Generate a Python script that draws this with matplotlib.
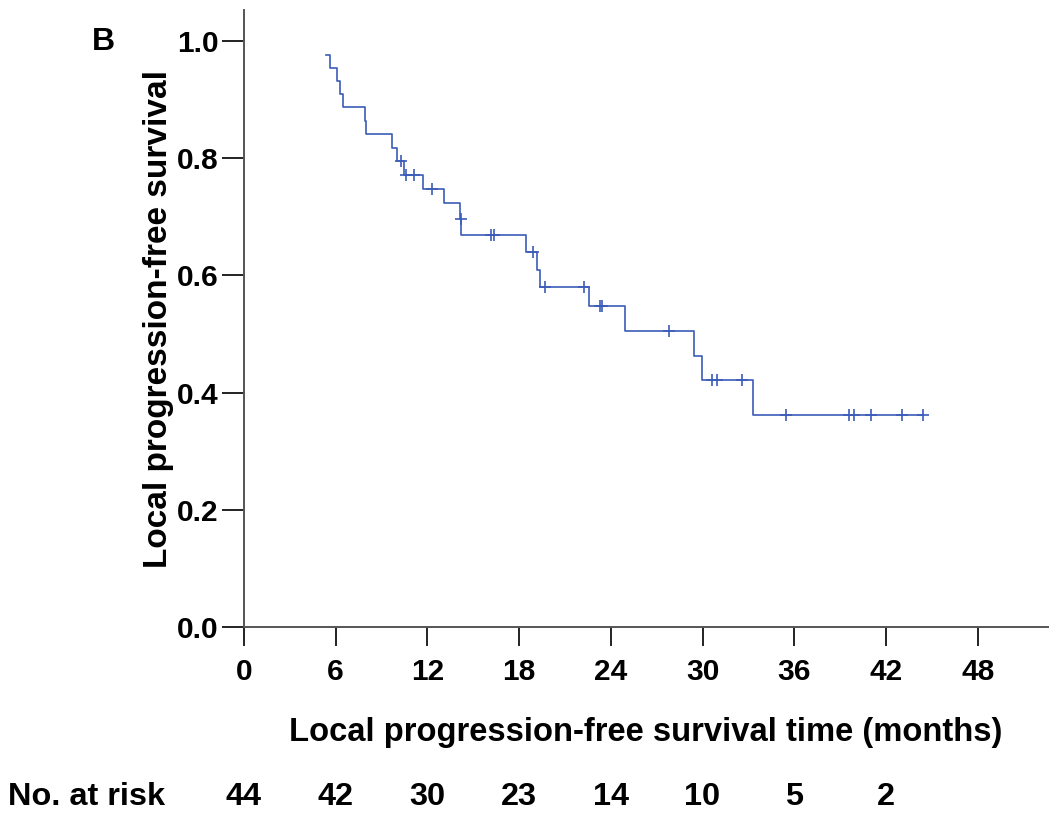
import numpy as np
import matplotlib
matplotlib.use("Agg")
import matplotlib.pyplot as plt
import matplotlib.transforms as mtransforms

plt.rcParams['font.family'] = ['Liberation Sans', 'DejaVu Sans']
plt.rcParams['font.weight'] = 'bold'

# Kaplan-Meier step curve (time in months, survival after the step)
step_times = [5.37, 5.63, 6.06, 6.28, 6.46, 7.92, 8.0, 9.66, 9.99, 10.49, 11.74,
              13.1, 14.14, 14.2, 18.43, 19.2, 19.37, 22.58, 24.93, 29.45, 29.95, 33.33]
step_surv = [0.977, 0.954, 0.932, 0.909, 0.887, 0.864, 0.841, 0.818, 0.796, 0.771, 0.747,
             0.723, 0.696, 0.669, 0.640, 0.609, 0.580, 0.547, 0.506, 0.463, 0.421, 0.361]
censor_times = [10.3, 10.6, 11.13, 12.33, 14.17, 16.14, 16.38, 18.93, 19.7, 22.25, 23.3,
                23.4, 27.81, 30.65, 30.92, 32.57, 35.45, 39.55, 39.88, 41.04, 43.08, 44.42]

risk_times = [0, 6, 12, 18, 24, 30, 36, 42]
risk_counts = [44, 42, 30, 23, 14, 10, 5, 2]

x_ticks = [0, 6, 12, 18, 24, 30, 36, 42, 48]
y_ticks = [0.0, 0.2, 0.4, 0.6, 0.8, 1.0]

line_color = '#3b5cb8'
axis_color = '#555555'

fig = plt.figure(figsize=(10.5, 8.23), dpi=100)
# axes box in pixels: left 244, right 1048, top 10, bottom 627
ax = fig.add_axes([244 / 1050, 1 - 627 / 823, (1048 - 244) / 1050, (627 - 10) / 823])

xs = step_times + [censor_times[-1]]
ys = step_surv + [step_surv[-1]]
ax.step(xs, ys, where='post', color=line_color, lw=1.2)

idx = np.searchsorted(step_times, censor_times, side='right') - 1
cy = np.array(step_surv)[idx]
ax.plot(censor_times, cy, linestyle='none', marker='+', ms=8, mew=1.2, color=line_color)

ax.set_xlim(0, 52.6)
ax.set_ylim(0, 1.053)
ax.set_xticks(x_ticks)
ax.set_yticks(y_ticks)
ax.set_yticklabels(['%.1f' % v for v in y_ticks])

for s in ['top', 'right']:
    ax.spines[s].set_visible(False)
for s in ['left', 'bottom']:
    ax.spines[s].set_color(axis_color)
    ax.spines[s].set_linewidth(1.4)

ax.tick_params(axis='x', length=14, width=1.4, color='#222222', pad=8, labelsize=21.5)
ax.tick_params(axis='y', length=16, width=1.4, color='#222222', pad=2, labelsize=21.5)
for lbl in ax.get_xticklabels() + ax.get_yticklabels():
    lbl.set_fontweight('bold')

ax.set_ylabel('Local progression-free survival', fontsize=24, fontweight='bold', labelpad=2)
fig.text(646 / 1050, 1 - 733 / 823,
         'Local progression-free survival time (months)',
         ha='center', va='center', fontsize=23.6, fontweight='bold')

fig.text(92 / 1050, 1 - 42 / 823, 'B', ha='left', va='center', fontsize=23, fontweight='bold')

# number at risk row
trans = mtransforms.blended_transform_factory(ax.transData, fig.transFigure)
fig.text(8 / 1050, 1 - 797 / 823, 'No. at risk', ha='left', va='center',
         fontsize=23.4, fontweight='bold')
for t, n in zip(risk_times, risk_counts):
    ax.text(t, 1 - 797 / 823, str(n), transform=trans, ha='center', va='center',
            fontsize=23.4, fontweight='bold', clip_on=False)

fig.savefig('out.png', dpi=100)
